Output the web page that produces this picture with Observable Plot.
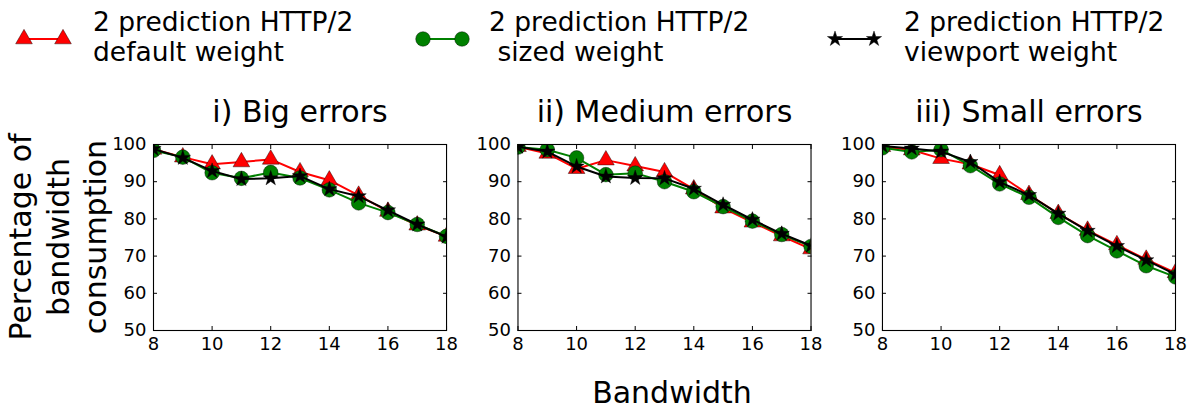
<!DOCTYPE html>
<html>
<head>
<meta charset="utf-8">
<script src="https://cdn.jsdelivr.net/npm/d3@7"></script>
<script src="https://cdn.jsdelivr.net/npm/@observablehq/plot@0.6"></script>
<style>
  html, body { margin: 0; padding: 0; background: #fff; }
  #wrap { position: relative; width: 1197px; height: 410px; font-family: "DejaVu Sans", sans-serif; color: #000; overflow: hidden; }
  #legend { position: relative; width: 1197px; height: 80px; }
  .lg-text { position: absolute; top: 7px; font-size: 26.5px; line-height: 29.5px; white-space: pre; }
  .lg-swatch { position: absolute; top: 24px; }
  #ylabel { position: absolute; width: 300px; height: 114px; left: -91px; top: 180px; transform: rotate(-90deg); text-align: center; font-size: 30px; line-height: 37.5px; white-space: pre; }
  #xlabel { position: absolute; top: 374px; left: 572px; width: 200px; text-align: center; font-size: 30px; line-height: 37px; }
  #chart svg { display: block; }
</style>
</head>
<body>
<div id="wrap">
  <div id="legend"></div>
  <div id="chart"></div>
  <div id="ylabel">Percentage of
bandwidth
consumption</div>
  <div id="xlabel">Bandwidth</div>
</div>
<script>
// ---------- data ----------
const bandwidth = [8, 9, 10, 11, 12, 13, 14, 15, 16, 17, 18];
const panelTitles = ["i) Big errors", "ii) Medium errors", "iii) Small errors"];
const seriesLabels = ["2 prediction HTTP/2\ndefault weight", "2 prediction HTTP/2\n sized weight", "2 prediction HTTP/2\nviewport weight"];
const xTicks = [8, 10, 12, 14, 16, 18];
const yTicks = [50, 60, 70, 80, 90, 100];

const bigDefault    = [98.7, 96.6, 94.7, 95.3, 96.0, 92.6, 90.4, 86.3, 82.0, 78.3, 75.3];
const bigSized      = [98.4, 96.6, 92.4, 90.9, 92.5, 91.0, 87.8, 84.3, 81.7, 78.5, 75.3];
const bigViewport   = [98.8, 96.4, 92.9, 90.7, 90.9, 91.5, 88.0, 86.1, 82.3, 78.5, 75.2];
const medDefault    = [99.4, 97.6, 93.5, 95.8, 94.2, 92.6, 88.0, 82.9, 79.1, 75.4, 71.9];
const medSized      = [99.3, 98.6, 96.4, 91.9, 92.3, 90.0, 87.3, 83.3, 79.4, 75.8, 72.6];
const medViewport   = [99.4, 98.1, 94.1, 91.4, 91.0, 90.9, 88.1, 83.8, 79.8, 76.0, 72.8];
const smallDefault  = [99.4, 98.5, 96.2, 94.7, 91.8, 86.5, 81.4, 76.9, 73.0, 69.1, 65.5];
const smallSized    = [99.1, 98.0, 98.6, 94.3, 89.4, 85.8, 80.4, 75.5, 71.4, 67.4, 64.4];
const smallViewport = [99.6, 98.9, 98.1, 95.3, 89.9, 86.4, 81.4, 76.8, 72.7, 68.9, 65.1];

// ---------- styles ----------
const seriesColors = ["#ff0000", "#008000", "#000000"];
const seriesSymbols = ["triangle", "circle", "star"];
const seriesR = [6.2, 7.3, 4.8];

const panelData = [
  [bigDefault, bigSized, bigViewport],
  [medDefault, medSized, medViewport],
  [smallDefault, smallSized, smallViewport]
];

const rows = [];
panelTitles.forEach((p, pi) =>
  seriesLabels.forEach((s, si) =>
    panelData[pi][si].forEach((v, i) =>
      rows.push({panel: p, series: si, bandwidth: bandwidth[i], value: v}))));

const seriesMarks = seriesLabels.flatMap((s, si) => {
  const d = rows.filter(r => r.series === si);
  return [
    Plot.line(d, {fx: "panel", x: "bandwidth", y: "value", stroke: seriesColors[si], strokeWidth: 2, clip: true}),
    Plot.dot(d, {fx: "panel", x: "bandwidth", y: "value", symbol: seriesSymbols[si], r: seriesR[si],
                 fill: seriesColors[si], stroke: "#000", strokeWidth: 0.6, strokeOpacity: 0.7, clip: true})
  ];
});

const chart = Plot.plot({
  width: 1197,
  height: 330,
  marginTop: 64,
  marginBottom: 80,
  marginLeft: 153,
  marginRight: 22,
  style: {fontFamily: '"DejaVu Sans", sans-serif', fontSize: "18px", color: "#000", background: "#fff", overflow: "visible"},
  fx: {domain: panelTitles, paddingInner: 0.196, paddingOuter: 0, round: false, axis: null},
  x: {domain: [8, 18]},
  y: {domain: [50, 100]},
  marks: [
    Plot.axisFx({anchor: "top", tickSize: 0, tickPadding: 23, fontSize: 30, label: null}),
    Plot.axisY({anchor: "left", facetAnchor: null, ticks: yTicks, tickSize: -4, tickPadding: 11, label: null, fontSize: 18}),
    Plot.axisY({anchor: "right", facetAnchor: null, ticks: yTicks, tickSize: -4, tickFormat: () => "", label: null}),
    Plot.axisX({anchor: "bottom", facetAnchor: null, ticks: xTicks, tickSize: -4, tickPadding: 11, label: null, fontSize: 18}),
    Plot.axisX({anchor: "top", facetAnchor: null, ticks: xTicks, tickSize: -4, tickFormat: () => "", label: null}),
    ...seriesMarks,
    Plot.frame({stroke: "#000", strokeWidth: 1.1})
  ]
});
document.getElementById("chart").appendChild(chart);

// ---------- legend ----------
const legend = document.getElementById("legend");
const swatchLeft = [12, 411, 823];
const textLeft = [93, 489, 904];
const ns = "http://www.w3.org/2000/svg";
seriesLabels.forEach((label, si) => {
  const svg = document.createElementNS(ns, "svg");
  svg.setAttribute("width", 62);
  svg.setAttribute("height", 30);
  svg.setAttribute("class", "lg-swatch");
  svg.style.left = swatchLeft[si] + "px";
  const ln = document.createElementNS(ns, "line");
  ln.setAttribute("x1", 12); ln.setAttribute("x2", 51);
  ln.setAttribute("y1", 15); ln.setAttribute("y2", 15);
  ln.setAttribute("stroke", seriesColors[si]); ln.setAttribute("stroke-width", 2);
  svg.appendChild(ln);
  const symType = [d3.symbolTriangle, d3.symbolCircle, d3.symbolStar][si];
  const r = seriesR[si];
  [12, 51].forEach(cx => {
    const p = document.createElementNS(ns, "path");
    p.setAttribute("d", d3.symbol(symType, Math.PI * r * r)());
    p.setAttribute("transform", `translate(${cx},15)`);
    p.setAttribute("fill", seriesColors[si]);
    p.setAttribute("stroke", "#000");
    p.setAttribute("stroke-width", 0.6);
    p.setAttribute("stroke-opacity", 0.7);
    svg.appendChild(p);
  });
  legend.appendChild(svg);
  const t = document.createElement("div");
  t.className = "lg-text";
  t.style.left = textLeft[si] + "px";
  t.textContent = label;
  legend.appendChild(t);
});
</script>
</body>
</html>
